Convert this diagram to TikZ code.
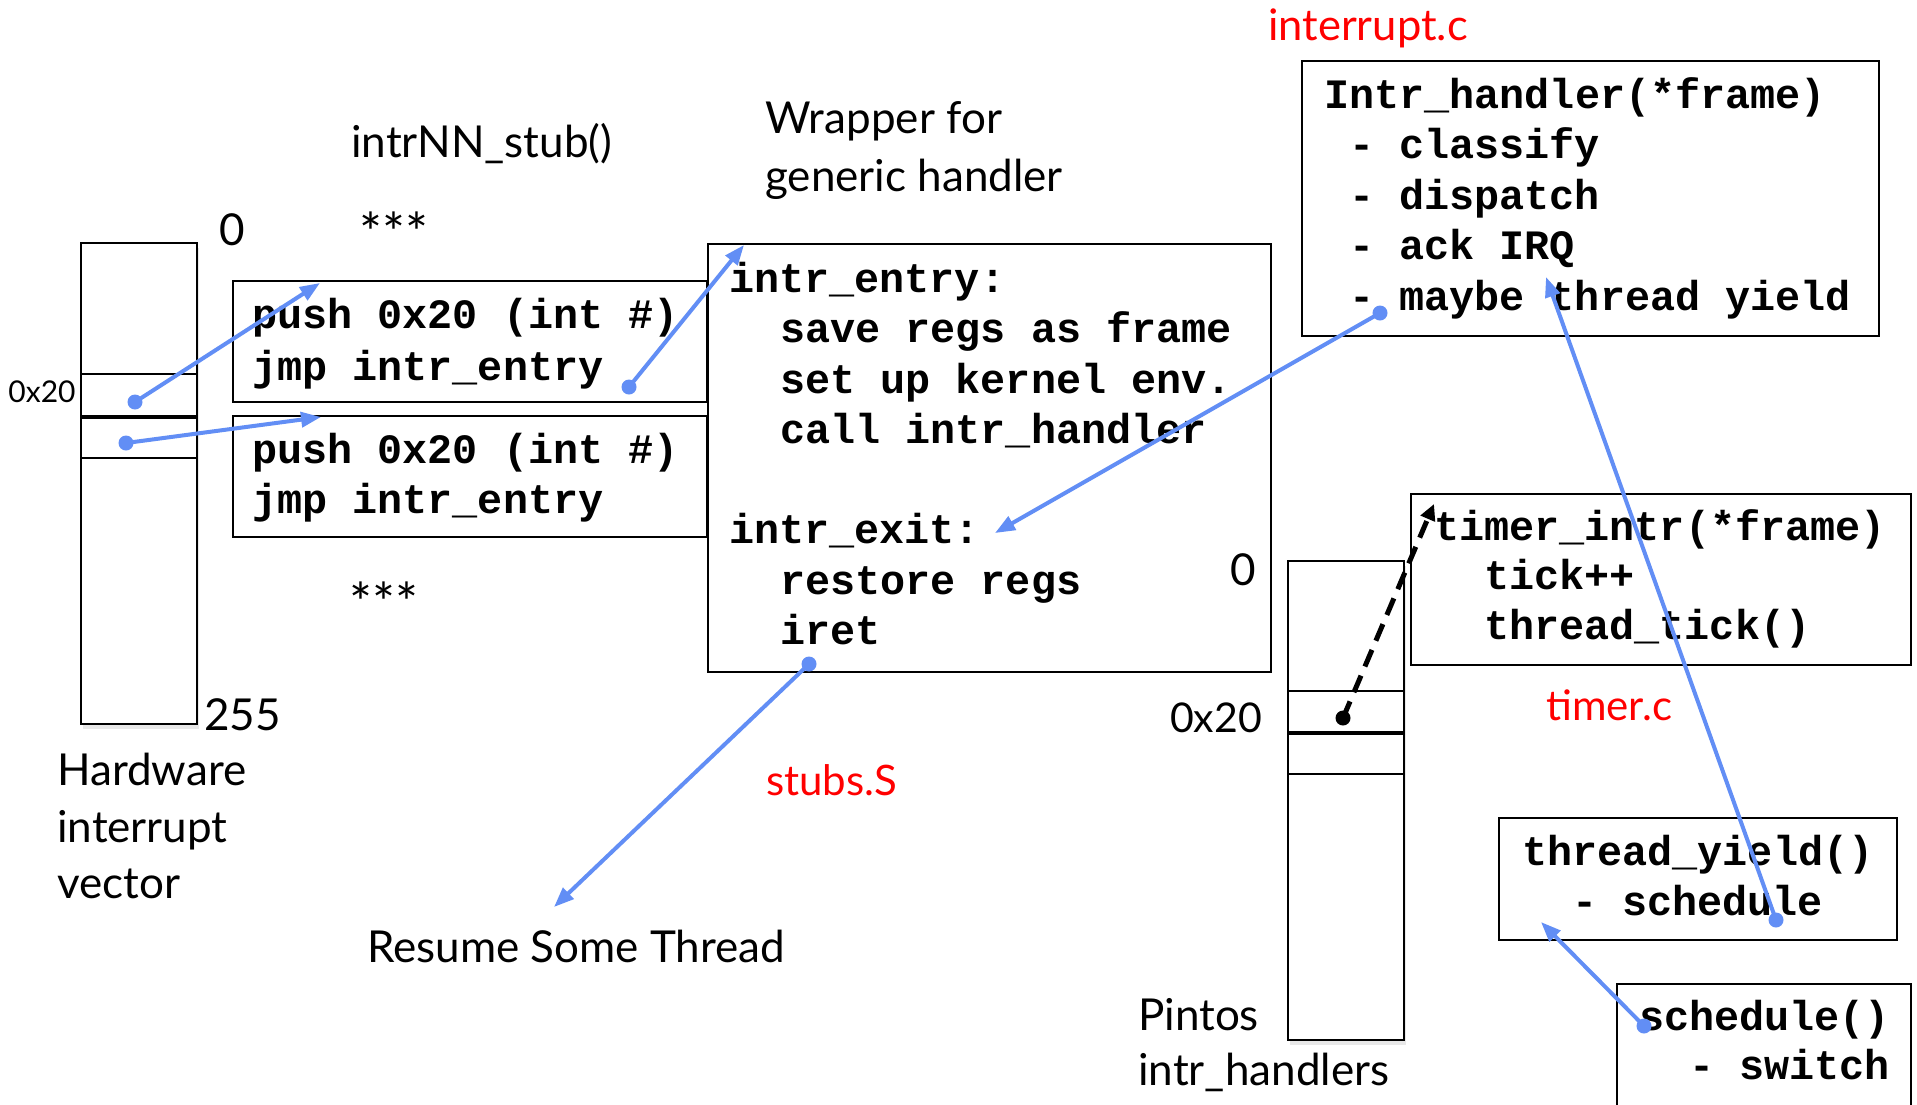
\documentclass[tikz,border=0pt]{standalone}
\usepackage{fontspec}
\setmainfont{Lato}
\newfontfamily\codefont{Liberation Mono}
\usetikzlibrary{arrows.meta,fit,shadows}
\definecolor{arrowblue}{RGB}{98,142,245}
\definecolor{labelred}{RGB}{255,0,0}
\tikzset{
  box/.style={draw, line width=2pt, fill=white, inner sep=0pt},
  vecbox/.style={draw, line width=2pt, fill=white, inner sep=0pt,
    drop shadow={opacity=0.18, shadow xshift=2pt, shadow yshift=-5pt}},
  code/.style={font=\codefont\bfseries\fontsize{41.8}{50}\selectfont, anchor=base west, inner sep=0pt},
  lbl/.style={font=\fontsize{44}{57}\selectfont, inner sep=0pt},
  stars/.style={font=\fontsize{54}{57}\selectfont, inner sep=0pt},
  redlbl/.style={font=\fontsize{42}{50}\selectfont, text=labelred, anchor=base west, inner sep=0pt},
  bluearrow/.style={draw=arrowblue, line width=4pt, -{Triangle[length=20pt,width=15pt]}},
  bluedot/.style={fill=arrowblue},
  dasharrow/.style={draw=black, line width=5pt, dash pattern=on 18pt off 10pt, -{Triangle[length=16pt,width=15pt]}},
}
\begin{document}
\begin{tikzpicture}[x=1pt,y=-1pt]
\useasboundingbox (0,0) rectangle (1917,1104);

% ---------- hardware interrupt vector ----------
\node[vecbox, fit={(81,243) (197,724)}] (hwvec) {};
\draw[line width=2pt] (hwvec.west |- 0,374) -- (hwvec.east |- 0,374);
\draw[line width=3.5pt] (hwvec.west |- 0,417) -- (hwvec.east |- 0,417);
\draw[line width=2pt] (hwvec.west |- 0,458) -- (hwvec.east |- 0,458);
\node[lbl] (hw0) at (232,230) {0};
\node[lbl, font=\fontsize{30}{36}\selectfont] (hw20) at (42,392) {0x20};
\node[lbl, anchor=base west] (hw255) at (204,730) {255};
\node[lbl, anchor=base west] (hwl1) at (57,785) {Hardware};
\node[lbl, anchor=base west] (hwl2) at (57,842) {interrupt};
\node[lbl, anchor=base west] (hwl3) at (57,898) {vector};

% ---------- stubs ----------
\node[lbl, anchor=base west] (stubtitle) at (351,157) {intrNN\_stub()};
\node[stars] (star1) at (394,232) {***};
\node[stars] (star2) at (384,602) {***};
\node[box, fit={(233,281) (707,402)}] (stubA) {};
\node[box, fit={(233,416) (707,537)}] (stubB) {};
\node[code] (sa1) at (252,328) {push 0x20 (int \#)};
\node[code] (sa2) at (252,380) {jmp intr\_entry};
\node[code] (sb1) at (252,463) {push 0x20 (int \#)};
\node[code] (sb2) at (252,513) {jmp intr\_entry};

% ---------- generic wrapper ----------
\node[lbl, anchor=base west] (wr1) at (765,133) {Wrapper for};
\node[lbl, anchor=base west] (wr2) at (765,191) {generic handler};
\node[box, fit={(708,244) (1271,672)}] (entry) {};
\node[code] (e1) at (729,292) {intr\_entry:};
\node[code] (e2) at (780,342) {save regs as frame};
\node[code] (e3) at (780,393) {set up kernel env.};
\node[code] (e4) at (780,443) {call intr\_handler};
\node[code] (e5) at (729,543) {intr\_exit:};
\node[code] (e6) at (780,594) {restore regs};
\node[code] (e7) at (780,644) {iret};
\node[redlbl] (stubsS) at (766,795) {stubs.S};
\node[lbl, anchor=base west] (resume) at (367,962) {Resume Some Thread};

% ---------- interrupt.c ----------
\node[redlbl, font=\fontsize{43.5}{50}\selectfont] (intc) at (1268,40) {interrupt.c};
\node[box, fit={(1302,61) (1879,336)}] (handler) {};
\node[code] (h1) at (1324,108) {Intr\_handler(*frame)};
\node[code] (h2) at (1349,158) {- classify};
\node[code] (h3) at (1349,209) {- dispatch};
\node[code] (h4) at (1349,259) {- ack IRQ};
\node[code] (h5) at (1349,310) {- maybe thread yield};

% ---------- pintos handlers ----------
\node[lbl] (pv0) at (1243,570) {0};
\node[vecbox, fit={(1288,561) (1404,1040)}] (pvec) {};
\draw[line width=2pt] (pvec.west |- 0,691) -- (pvec.east |- 0,691);
\draw[line width=3.5pt] (pvec.west |- 0,733) -- (pvec.east |- 0,733);
\draw[line width=2pt] (pvec.west |- 0,774) -- (pvec.east |- 0,774);
\node[lbl, anchor=west, font=\fontsize{41}{50}\selectfont] (pv20) at (1170,718) {0x20};
\node[lbl, anchor=base west] (pl1) at (1138,1030) {Pintos};
\node[lbl, anchor=base west] (pl2) at (1138,1085) {intr\_handlers};

% ---------- timer.c ----------
\node[box, fit={(1411,494) (1911,665)}] (timer) {};
\node[code] (t1) at (1434,540) {timer\_intr(*frame)};
\node[code] (t2) at (1484,589) {tick++};
\node[code] (t3) at (1484,639) {thread\_tick()};
\node[redlbl] (timerc) at (1546,720) {timer.c};

% ---------- thread ----------
\node[box, fit={(1499,818) (1897,940)}] (yield) {};
\node[code] (y1) at (1522,865) {thread\_yield()};
\node[code] (y2) at (1572,915) {- schedule};
\node[box, fit={(1617,984) (1911,1130)}] (sched) {};
\node[code] (s1) at (1639,1030) {schedule()};
\node[code] (s2) at (1689,1079) {- switch};

% ---------- connectors ----------
\coordinate (a1s) at (135,402);  \coordinate (a1e) at (320,283);
\coordinate (a2s) at (126,443);  \coordinate (a2e) at (321,417);
\coordinate (a3s) at (629,387);  \coordinate (a3e) at (744,245);
\coordinate (a4s) at (1380,313); \coordinate (a4e) at (995,533);
\coordinate (a5s) at (809,664);  \coordinate (a5e) at (554,907);
\coordinate (a6s) at (1776,920); \coordinate (a6e) at (1546,277);
\coordinate (a7s) at (1644,1026);\coordinate (a7e) at (1541,922);
\coordinate (d1s) at (1343,718); \coordinate (d1e) at (1434,504);

\foreach \s/\e in {a1s/a1e,a2s/a2e,a3s/a3e,a4s/a4e,a5s/a5e,a6s/a6e,a7s/a7e}{
  \draw[bluearrow] (\s) -- (\e);
  \fill[bluedot] (\s) circle (7.5pt);
}
\draw[dasharrow] (d1s) -- (d1e);
\fill (d1s) circle (7.5pt);
\end{tikzpicture}
\end{document}
